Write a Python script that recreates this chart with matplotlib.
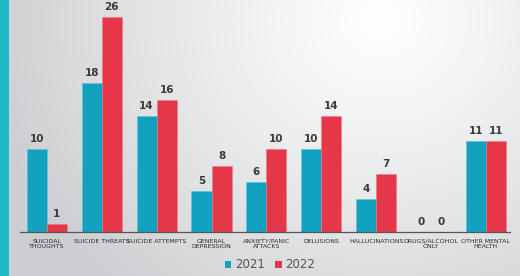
import numpy as np
import matplotlib
matplotlib.use("Agg")
import matplotlib.pyplot as plt
from matplotlib.patches import Rectangle

categories = ["SUICIDAL\nTHOUGHTS", "SUICIDE THREATS", "SUICIDE ATTEMPTS",
              "GENERAL\nDEPRESSION", "ANXIETY/PANIC\nATTACKS", "DELUSIONS",
              "HALLUCINATIONS", "DRUGS/ALCOHOL\nONLY", "OTHER MENTAL\nHEALTH"]
vals_2021 = [10, 18, 14, 5, 6, 10, 4, 0, 11]
vals_2022 = [1, 26, 16, 8, 10, 14, 7, 0, 11]
years = ["2021", "2022"]

teal = "#12a2bf"
red = "#e43748"

W, H = 520, 276
fig = plt.figure(figsize=(W / 100, H / 100), dpi=100)

# background gradient, light patch towards the upper right
bg = fig.add_axes([0, 0, 1, 1])
yy, xx = np.mgrid[0:H, 0:W]
d = np.sqrt((xx - 380) ** 2 + ((yy - 20) * 1.1) ** 2)
t = np.clip(d / 400, 0, 1) ** 1.1
c0 = np.array([1.0, 1.0, 1.0])
c1 = np.array([0.80, 0.81, 0.82])
img = c0[None, None, :] * (1 - t[..., None]) + c1[None, None, :] * t[..., None]
bg.imshow(img, extent=[0, W, H, 0], aspect="auto")
bg.add_patch(Rectangle((0, 0), 9, H, color="#1db9c6", lw=0))
bg.set_xlim(0, W)
bg.set_ylim(H, 0)
bg.axis("off")

# main axes: baseline at y=232 px, top of 26 at y=17 px
ax = fig.add_axes([20 / W, (H - 232) / H, (510 - 20) / W, 232 / H])
ax.patch.set_alpha(0)
x = np.arange(len(categories))
w = 0.365
b1 = ax.bar(x - w / 2, vals_2021, w, color=teal, edgecolor="#5ac3d8", lw=0.4, label=years[0])
b2 = ax.bar(x + w / 2, vals_2022, w, color=red, edgecolor="#f07a86", lw=0.4, label=years[1])
for bars in (b1, b2):
    for r in bars:
        h = r.get_height()
        ax.text(r.get_x() + r.get_width() / 2, h + 0.6, f"{int(h)}",
                ha="center", va="bottom", fontsize=7.5, fontweight="bold", color="#3a3a3a")

ax.set_xlim(-0.49, 8.44)
ax.set_ylim(0, 26 * 232 / 215)
for s in ["top", "right", "left"]:
    ax.spines[s].set_visible(False)
ax.spines["bottom"].set_color("#555555")
ax.spines["bottom"].set_linewidth(0.9)
ax.set_yticks([])
ax.set_xticks(x)
ax.set_xticklabels(categories, fontsize=4.5, color="#2a2a2a", linespacing=1.05,
                   fontfamily="DejaVu Sans Condensed")
ax.tick_params(axis="x", length=0, pad=5)

leg = fig.legend(handles=[b1, b2], labels=years, loc="center", bbox_to_anchor=(270 / W, 1 - 265 / H),
                 ncol=2, frameon=False, fontsize=8.5, handlelength=0.55, handleheight=0.55,
                 handletextpad=0.3, columnspacing=0.9, labelcolor="#555555")
for p in leg.get_patches():
    p.set_edgecolor("none")

fig.savefig("out.png", dpi=100)
